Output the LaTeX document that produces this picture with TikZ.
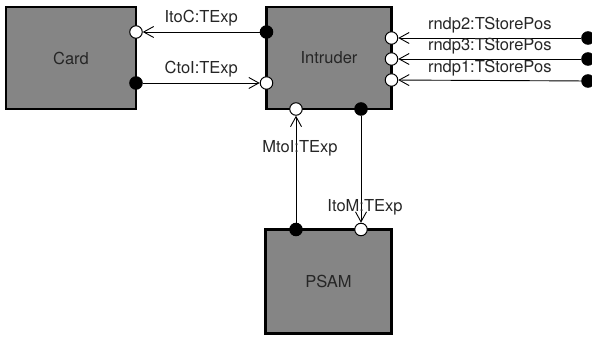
\documentclass[tikz,border=0pt]{standalone}
\usepackage{fontspec}
\setmainfont{TeX Gyre Heros}
\usetikzlibrary{positioning, arrows.meta}

\begin{document}
\begin{tikzpicture}[x=1pt, y=-1pt,
  box/.style={draw, line width=2.5pt, fill=black!48, inner sep=0pt, outer sep=0pt,
    font=\fontsize{16.5}{19}\selectfont, text=black!85},
  openport/.style={circle, draw, fill=white, line width=1pt, minimum size=12.5pt, inner sep=0pt},
  fullport/.style={circle, draw, fill=black, line width=1pt, minimum size=12.5pt, inner sep=0pt},
  chan/.style={line width=0.9pt, -{Straight Barb[length=10pt, width=11pt]}},
  lbl/.style={font=\fontsize{16.5}{19}\selectfont, text=black!85}]
\clip (0,0) rectangle (592,339);
% components
\node[box, minimum width=130pt, minimum height=102pt] (card) at (71,58) {Card};
\node[box, minimum width=125pt, minimum height=102pt] (intruder) at (329,58) {Intruder};
\node[box, minimum width=126pt, minimum height=104pt] (psam) at (328.5,281.5) {PSAM};
% ports
\node[openport] (cardIn) at (card.east |- 0,32) {};
\node[fullport] (cardOut) at (card.east |- 0,83) {};
\node[fullport] (intrC) at (intruder.west |- 0,32) {};
\node[openport] (intrCin) at (intruder.west |- 0,83) {};
\node[openport] (intrR2) at (intruder.east |- 0,38) {};
\node[openport] (intrR3) at (intruder.east |- 0,59) {};
\node[openport] (intrR1) at (intruder.east |- 0,80) {};
\node[openport] (intrMin) at (intruder.south -| 296,0) {};
\node[fullport] (intrM) at (intruder.south -| 361,0) {};
\node[fullport] (psamOut) at (psam.north -| 296,0) {};
\node[openport] (psamIn) at (psam.north -| 361,0) {};
\node[fullport] (rnd2) at (588,38) {};
\node[fullport] (rnd3) at (588,59) {};
\node[fullport] (rnd1) at (588,81) {};
% channels
\draw[chan] (intrC) -- node[lbl, above=2pt] {ItoC:TExp} (cardIn);
\draw[chan] (cardOut) -- node[lbl, above=2pt] {CtoI:TExp} (intrCin);
\draw[chan] (rnd2) -- node[lbl, above=1pt] {rndp2:TStorePos} (intrR2);
\draw[chan] (rnd3) -- node[lbl, above=1pt] {rndp3:TStorePos} (intrR3);
\draw[chan] (rnd1) -- node[lbl, above=1pt] {rndp1:TStorePos} (intrR1);
\draw[chan] (psamOut) -- node[lbl, pos=0.7, xshift=4pt] {MtoI:TExp} (intrMin);
\draw[chan] (intrM) -- node[lbl, pos=0.855, xshift=4pt] {ItoM:TExp} (psamIn);
\end{tikzpicture}
\end{document}
